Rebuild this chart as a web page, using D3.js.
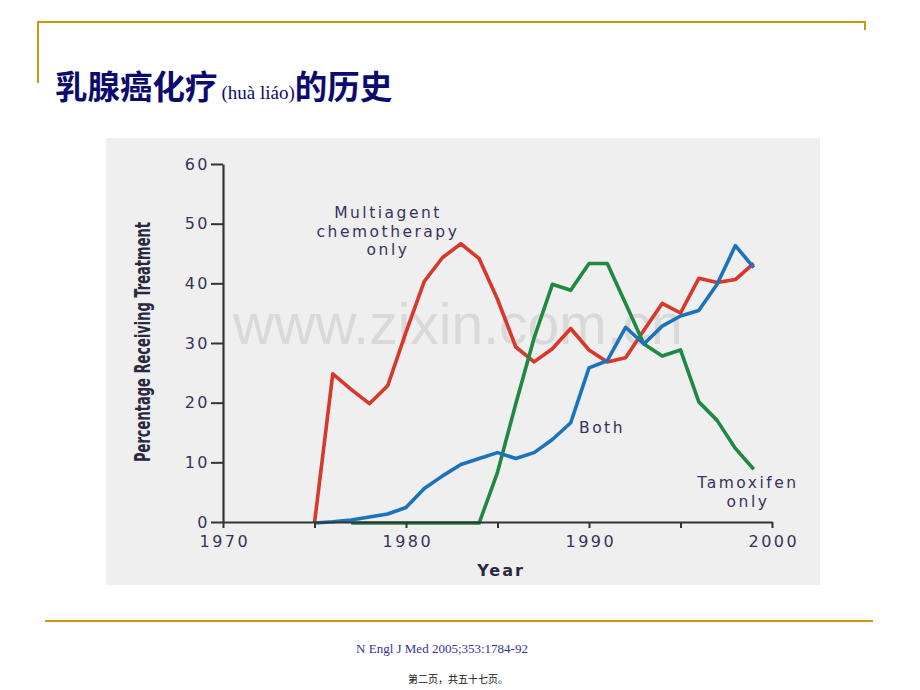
<!DOCTYPE html>
<html>
<head>
<meta charset="utf-8">
<script src="https://cdn.jsdelivr.net/npm/d3@7"></script>
<style>
  body { margin: 0; background: #fff; }
  svg { display: block; }
</style>
</head>
<body>
<div id="chart"></div>
<script>
// years of the SEER series
var years = [1975, 1976, 1977, 1978, 1979, 1980, 1981, 1982, 1983, 1984, 1985, 1986,
             1987, 1988, 1989, 1990, 1991, 1992, 1993, 1994, 1995, 1996, 1997, 1998, 1999];
// multiagent chemotherapy only
var chemoOnly = [0, 25, 22.4, 20, 23, 32, 40.5, 44.5, 46.8, 44.3, 37.5, 29.5,
                 27, 29.2, 32.6, 29, 27, 27.7, 32.3, 36.8, 35.2, 41, 40.3, 40.8, 43.5];
// both
var both = [0, 0.2, 0.5, 1.0, 1.5, 2.6, 5.8, 7.9, 9.8, 10.8, 11.8, 10.8,
            11.8, 14, 16.8, 26, 27.2, 32.8, 30, 33, 34.7, 35.6, 40, 46.5, 42.8];
// tamoxifen only (starts at 1977)
var tamoxYears = [1977, 1978, 1979, 1980, 1981, 1982, 1983, 1984, 1985, 1986, 1987, 1988,
                  1989, 1990, 1991, 1992, 1993, 1994, 1995, 1996, 1997, 1998, 1999];
var tamoxOnly = [0, 0, 0, 0, 0, 0, 0, 0, 8.5, 20, 31, 40,
                 39, 43.5, 43.5, 36.8, 30, 28, 29, 20.3, 17.2, 12.5, 9];

var yTicks = [0, 10, 20, 30, 40, 50, 60];
var xTicks = [1970, 1975, 1980, 1985, 1990, 1995, 2000];
var xLabels = [1970, 1980, 1990, 2000];

var W = 920, H = 690;
var gold = "#cc9a06";
var txtCol = "#36345c";
var ls = "2.5px";

var svg = d3.select("#chart").append("svg")
    .attr("width", W)
    .attr("height", H);

svg.append("rect").attr("width", W).attr("height", H).attr("fill", "#fff");

// slide frame lines
svg.append("line").attr("x1", 37).attr("x2", 866).attr("y1", 22).attr("y2", 22)
    .attr("stroke", gold).attr("stroke-width", 2);
svg.append("line").attr("x1", 38).attr("x2", 38).attr("y1", 21).attr("y2", 83)
    .attr("stroke", gold).attr("stroke-width", 2);
svg.append("line").attr("x1", 865).attr("x2", 865).attr("y1", 21).attr("y2", 30)
    .attr("stroke", gold).attr("stroke-width", 2);
svg.append("line").attr("x1", 45).attr("x2", 873).attr("y1", 621).attr("y2", 621)
    .attr("stroke", gold).attr("stroke-width", 2);

// title
var title = svg.append("text")
    .attr("x", 55)
    .attr("y", 99)
    .attr("fill", "#0d0c6e");
title.append("tspan")
    .attr("font-family", "'Noto Sans CJK SC'")
    .attr("font-weight", "bold")
    .attr("font-size", 32.5)
    .text("乳腺癌化疗");
title.append("tspan")
    .attr("font-family", "'Liberation Serif', serif")
    .attr("font-size", 19)
    .attr("dx", 4)
    .text("(huà liáo)");
title.append("tspan")
    .attr("font-family", "'Noto Sans CJK SC'")
    .attr("font-weight", "bold")
    .attr("font-size", 32.5)
    .text("的历史");

// chart panel
svg.append("rect")
    .attr("x", 106).attr("y", 138)
    .attr("width", 714).attr("height", 447)
    .attr("fill", "#efefef");

var x = d3.scaleLinear().domain([1970, 2000]).range([223, 772]);
var y = d3.scaleLinear().domain([0, 60]).range([522, 164]);

// watermark
svg.append("text")
    .attr("x", 233).attr("y", 344)
    .attr("font-family", "'Liberation Sans', Arial, sans-serif")
    .attr("font-size", 57)
    .attr("fill", "#d9d9d9")
    .text("www.zixin.com.cn");

var series = [
    {name: "chemo", xs: years, vs: chemoOnly, c: "#d8372b"},
    {name: "tamox", xs: tamoxYears, vs: tamoxOnly, c: "#1f8843"},
    {name: "both", xs: years, vs: both, c: "#1b73bb"}
];

var line = d3.line()
    .x(d => x(d[0]))
    .y(d => y(d[1]) + 1);

svg.selectAll(".serie").data(series).enter().append("path")
    .attr("class", "serie")
    .attr("fill", "none")
    .attr("stroke", d => d.c)
    .attr("stroke-width", 3.6)
    .attr("stroke-linejoin", "round")
    .attr("d", d => line(d.xs.map((yr, i) => [yr, d.vs[i]])));

// axes
var yAxis = svg.append("g")
    .attr("transform", "translate(223,0)")
    .call(d3.axisLeft(y).tickValues(yTicks).tickSize(12).tickSizeOuter(0).tickPadding(1));
var xAxis = svg.append("g")
    .attr("transform", "translate(0,522)")
    .call(d3.axisBottom(x).tickValues(xTicks).tickSize(6).tickSizeOuter(0).tickPadding(8)
        .tickFormat(d => xLabels.indexOf(d) >= 0 ? d : ""));

[yAxis, xAxis].forEach(function (g) {
    g.select(".domain").attr("stroke", "#333").attr("stroke-width", 2.2);
    g.selectAll(".tick line").attr("stroke", "#333").attr("stroke-width", 2);
    g.selectAll(".tick text")
        .attr("fill", txtCol)
        .attr("font-family", "'DejaVu Sans', sans-serif")
        .attr("font-size", 16)
        .style("letter-spacing", ls);
});
xAxis.selectAll(".tick text").attr("dx", "1.3px");

// axis titles
svg.append("text")
    .attr("x", 501).attr("y", 576)
    .attr("text-anchor", "middle")
    .attr("font-family", "'DejaVu Sans', sans-serif")
    .attr("font-weight", "bold")
    .attr("font-size", 16)
    .style("letter-spacing", "2px")
    .attr("fill", "#2a2840")
    .text("Year");

svg.append("text")
    .attr("transform", "translate(150,342) rotate(-90)")
    .attr("text-anchor", "middle")
    .attr("font-family", "'Liberation Sans Narrow', 'DejaVu Sans Condensed', 'Liberation Sans', sans-serif")
    .attr("font-weight", "bold")
    .attr("font-size", 22)
    .attr("textLength", 240)
    .attr("lengthAdjust", "spacingAndGlyphs")
    .attr("fill", "#2a2840")
    .text("Percentage Receiving Treatment");

// series labels
var notes = [
    {lines: ["Multiagent", "chemotherapy", "only"], x: 388, y: 218, anchor: "middle"},
    {lines: ["Both"], x: 579, y: 433, anchor: "start"},
    {lines: ["Tamoxifen", "only"], x: 748, y: 488, anchor: "middle"}
];
notes.forEach(function (n) {
    var t = svg.append("text")
        .attr("text-anchor", n.anchor)
        .attr("font-family", "'DejaVu Sans', sans-serif")
        .attr("font-size", 15.5)
        .style("letter-spacing", ls)
        .attr("fill", txtCol);
    n.lines.forEach(function (l, i) {
        t.append("tspan")
            .attr("x", n.x)
            .attr("y", n.y + i * 18.5)
            .text(l);
    });
});

// footer
svg.append("text")
    .attr("x", 442).attr("y", 653)
    .attr("text-anchor", "middle")
    .attr("font-family", "'Liberation Serif', serif")
    .attr("font-size", 13)
    .attr("fill", "#33339a")
    .text("N Engl J Med 2005;353:1784-92");

svg.append("text")
    .attr("x", 458).attr("y", 683)
    .attr("text-anchor", "middle")
    .attr("font-family", "'Noto Sans CJK SC'")
    .attr("font-size", 10)
    .attr("fill", "#111")
    .text("第二页，共五十七页。");
</script>
</body>
</html>
